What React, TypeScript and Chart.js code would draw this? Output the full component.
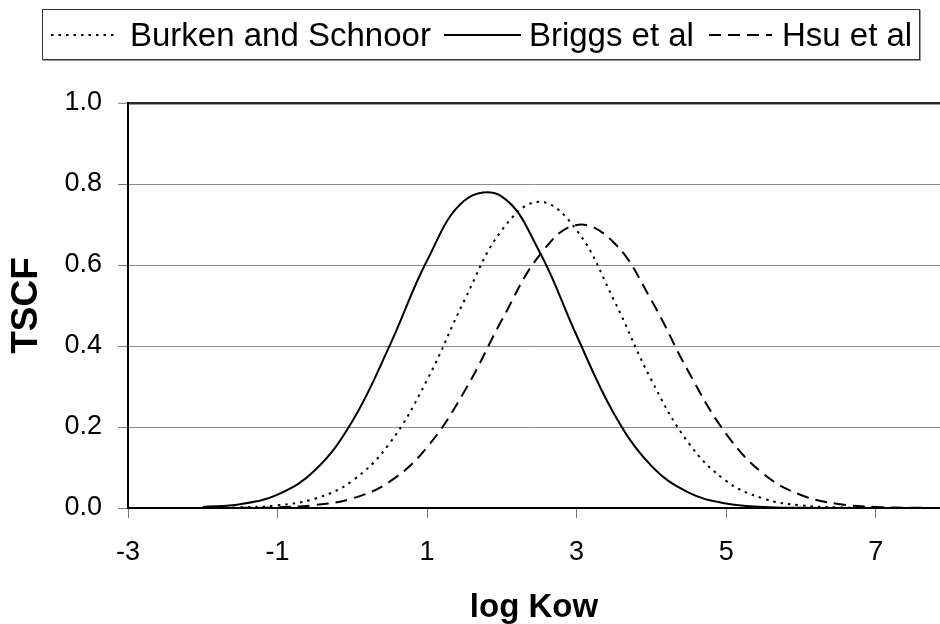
import React, { useEffect, useRef } from "react";
import { Chart, registerables } from "chart.js";

Chart.register(...registerables);

// log Kow sample positions
const LOG_KOW = [-2, -1.5, -1, -0.5, 0, 0.5, 1, 1.5, 2, 2.5, 3, 3.5, 4, 4.5, 5, 5.5, 6, 6.5, 7, 7.5, 8];

// TSCF values
const BURKEN = [0.0003, 0.0015, 0.0066, 0.023, 0.067, 0.16, 0.316, 0.513, 0.686, 0.756, 0.686, 0.513, 0.316, 0.16, 0.067, 0.023, 0.0066, 0.0015, 0.0003, 0.00005, 0];
const BRIGGS = [0.0022, 0.0095, 0.033, 0.093, 0.214, 0.401, 0.611, 0.759, 0.769, 0.634, 0.426, 0.233, 0.104, 0.038, 0.011, 0.0027, 0.0005, 0.0001, 0, 0, 0];
const HSU = [0.0001, 0.0004, 0.0018, 0.0072, 0.0236, 0.065, 0.15, 0.288, 0.464, 0.623, 0.699, 0.655, 0.513, 0.335, 0.183, 0.084, 0.032, 0.01, 0.0027, 0.0006, 0.0001];

const SERIES_LABELS = ["Burken and Schnoor", "Briggs et al", "Hsu et al"];
const SERIES_VALUES = [BURKEN, BRIGGS, HSU];
const SERIES_DASH: number[][] = [[2.5, 5], [], [12, 7]];

const X_TICKS = [-3, -1, 1, 3, 5, 7];
const Y_TICKS = [0, 0.2, 0.4, 0.6, 0.8, 1.0];

const X_TITLE = "log Kow";
const Y_TITLE = "TSCF";

const FONT = "'Liberation Sans', Arial, Helvetica, sans-serif";

export default function App() {
  const canvasRef = useRef<HTMLCanvasElement | null>(null);

  useEffect(() => {
    const canvas = canvasRef.current;
    if (!canvas) return;
    const datasets = SERIES_LABELS.map((label, i) => ({
      label,
      data: LOG_KOW.map((x, j) => ({ x, y: SERIES_VALUES[i][j] })),
      borderColor: "#000",
      backgroundColor: "#000",
      borderWidth: 2,
      borderDash: SERIES_DASH[i],
      pointRadius: 0,
      tension: 0.4,
      fill: false,
    }));

    const chart = new Chart(canvas, {
      type: "line",
      data: { datasets },
      options: {
        animation: false,
        responsive: false,
        maintainAspectRatio: false,
        layout: { padding: { top: 103, right: 0, bottom: 0, left: 0 } },
        plugins: {
          legend: { display: false },
          tooltip: { enabled: false },
        },
        scales: {
          x: {
            type: "linear",
            min: -3,
            max: 7.86,
            afterBuildTicks: (axis: any) => {
              axis.ticks = X_TICKS.map((v) => ({ value: v }));
            },
            afterFit: (s: any) => {
              s.height = 116;
            },
            border: { display: true, color: "#000", width: 2 },
            grid: {
              drawOnChartArea: false,
              drawTicks: true,
              tickLength: 10,
              tickColor: "#777",
              tickWidth: 1,
            },
            ticks: {
              color: "#000",
              padding: 18,
              maxRotation: 0,
              autoSkip: false,
              font: { family: FONT, size: 27 },
              callback: (v: any) => String(v),
            },
            title: {
              display: true,
              text: X_TITLE,
              color: "#000",
              font: { family: FONT, size: 33, weight: "bold", lineHeight: 1 },
              padding: { top: 0, bottom: 0 },
            },
          },
          y: {
            type: "linear",
            min: 0,
            max: 1,
            afterBuildTicks: (axis: any) => {
              axis.ticks = Y_TICKS.map((v) => ({ value: v }));
            },
            afterFit: (s: any) => {
              s.width = 128;
            },
            border: { display: true, color: "#000", width: 2 },
            grid: {
              drawTicks: true,
              tickLength: 10,
              tickColor: "#777",
              tickWidth: 1,
              color: (ctx: any) => {
                const v = ctx.tick ? ctx.tick.value : 0;
                if (v >= 0.999) return "#2a2a2a";
                if (v <= 0.001) return "#000";
                return "#8c8c8c";
              },
              lineWidth: (ctx: any) => {
                const v = ctx.tick ? ctx.tick.value : 0;
                return v >= 0.999 ? 2.5 : 1;
              },
            },
            ticks: {
              color: "#000",
              padding: 16,
              font: { family: FONT, size: 27 },
              callback: (v: any) => Number(v).toFixed(1),
            },
            title: {
              display: true,
              text: Y_TITLE,
              color: "#000",
              font: { family: FONT, size: 37, weight: "bold", lineHeight: 1 },
              padding: { top: 8, bottom: 0 },
            },
          },
        },
      },
    });
    return () => chart.destroy();
  }, []);

  const sampleWidths = [67, 77, 63];
  const sampleGapBefore = [8, 13, 15];
  const textGapBefore = [12, 8, 10];

  return (
    <div style={{ position: "absolute", left: 0, top: 0, width: 940, height: 624, background: "#fff" }}>
      <canvas ref={canvasRef} width={940} height={624} style={{ position: "absolute", left: 0, top: 0, width: 940, height: 624 }} />
      <div
        style={{
          position: "absolute",
          left: 42,
          top: 9,
          width: 876,
          height: 49,
          border: "1px solid #333",
          boxShadow: "1px 1px 0 #999",
          background: "#fff",
          display: "flex",
          alignItems: "center",
          fontFamily: FONT,
          fontSize: 33,
          color: "#000",
          whiteSpace: "nowrap",
        }}
      >
        {SERIES_LABELS.map((label, i) => (
          <React.Fragment key={label}>
            <svg width={sampleWidths[i]} height={6} style={{ marginLeft: sampleGapBefore[i], display: "block" }}>
              <line
                x1={0}
                y1={3}
                x2={sampleWidths[i]}
                y2={3}
                stroke="#000"
                strokeWidth={2}
                strokeDasharray={SERIES_DASH[i].length ? SERIES_DASH[i].join(",") : undefined}
              />
            </svg>
            <span style={{ marginLeft: textGapBefore[i], lineHeight: "49px" }}>{label}</span>
          </React.Fragment>
        ))}
      </div>
    </div>
  );
}
